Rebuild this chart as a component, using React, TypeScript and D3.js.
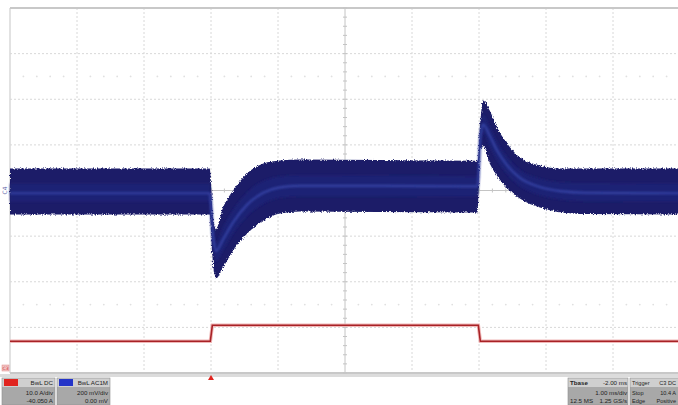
import React, { useRef, useEffect } from 'react';
import * as d3 from 'd3';

const WIDTH = 678;
const HEIGHT = 405;

// time in ms from the trigger, C4 voltage in mV, C3 current in A
const bandTime = [-3, -0.02, 0.03, 0.075, 0.18, 0.33, 0.54, 0.78, 1.03, 1.33, 2.5, 3.98, 4.02, 4.06, 4.16, 4.27, 4.42, 4.61, 4.91, 5.21, 5.6, 7];
const upperMv = [96, 96, -120, -170, -75, 0, 75, 118, 132, 136, 134, 130, 300, 395, 351, 276, 206, 145, 110, 96, 96, 96];
const lowerMv = [-105, -105, -320, -386, -338, -263, -189, -132, -101, -92, -94, -96, 185, 195, 118, 65, 10, -35, -75, -95, -103, -105];
const centerMv = [-12, -12, -200, -265, -215, -140, -62, -10, 14, 20, 20, 18, 230, 290, 240, 175, 110, 55, 15, -3, -10, -12];

const currentTime = [-3, -0.01, 0.02, 3.99, 4.02, 7];
const currentAmps = [7.0, 7.0, 10.5, 10.5, 7.0, 7.0];

const channelBoxes = [
  { tab: '#e0241f', head: 'BwL DC', l1: '10.0 A/div', l2: '-40.050 A' },
  { tab: '#2434c8', head: 'BwL AC1M', l1: '200 mV/div', l2: '0.00 mV' },
];
const timeBox = { head: 'Tbase', headR: '-2.00 ms', l1: '1.00 ms/div', l2L: '12.5 MS', l2R: '1.25 GS/s' };
const trigBox = { head: 'Trigger', headR: 'C3 DC', l1L: 'Stop', l1R: '10.4 A', l2L: 'Edge', l2R: 'Positive' };

const App = () => {
  const svgRef = useRef<SVGSVGElement>(null);

  useEffect(() => {
    document.body.style.margin = '0';
    const svg = d3.select(svgRef.current);
    svg.selectAll('*').remove();
    svg.attr('width', WIDTH).attr('height', HEIGHT).style('display', 'block');

    const left = 10, right = 680, top = 8, bottom = 373;
    const x = d3.scaleLinear().domain([-3, 7]).range([left, right]);
    const yV = d3.scaleLinear().domain([-800, 800]).range([bottom, top]);
    const yA = d3.scaleLinear().domain([0.05, 80.05]).range([bottom, top]);

    svg.append('rect').attr('width', WIDTH).attr('height', HEIGHT).attr('fill', '#ffffff');

    const defs = svg.append('defs');
    const f = defs.append('filter').attr('id', 'rough')
      .attr('x', '-2%').attr('y', '-10%').attr('width', '104%').attr('height', '120%');
    f.append('feTurbulence').attr('type', 'fractalNoise')
      .attr('baseFrequency', '0.9 0.6').attr('numOctaves', 2).attr('seed', 4).attr('result', 'n');
    f.append('feDisplacementMap').attr('in', 'SourceGraphic').attr('in2', 'n')
      .attr('scale', 4).attr('xChannelSelector', 'R').attr('yChannelSelector', 'G');
    const blur = defs.append('filter').attr('id', 'soft');
    blur.append('feGaussianBlur').attr('stdDeviation', 1);

    // grid
    const grid = svg.append('g');
    const xTicks = d3.range(-3, 8, 1);
    const yTicks = d3.range(-800, 801, 200);
    xTicks.forEach(t => {
      const solid = t === 2;
      grid.append('line')
        .attr('x1', x(t)).attr('x2', x(t)).attr('y1', top).attr('y2', bottom)
        .attr('stroke', solid ? '#c4c4c4' : '#d8d8d8')
        .attr('stroke-width', t === -3 ? 1.5 : 1)
        .attr('stroke-dasharray', solid || t === -3 ? null : '2,2');
    });
    yTicks.forEach(v => {
      const solid = v === 0;
      const edge = v === 800 || v === -800;
      grid.append('line')
        .attr('x1', left).attr('x2', WIDTH).attr('y1', yV(v)).attr('y2', yV(v))
        .attr('stroke', edge ? '#c8c8c8' : solid ? '#c4c4c4' : '#d8d8d8')
        .attr('stroke-width', edge ? 2 : 1)
        .attr('stroke-dasharray', solid || edge ? null : '2,2');
    });
    // minor ticks on centre axes
    d3.range(-800, 801, 40).forEach(v => {
      grid.append('line').attr('x1', x(2) - 2).attr('x2', x(2) + 2)
        .attr('y1', yV(v)).attr('y2', yV(v)).attr('stroke', '#c4c4c4');
    });
    d3.range(-3, 7.01, 0.2).forEach(t => {
      grid.append('line').attr('x1', x(t)).attr('x2', x(t))
        .attr('y1', yV(0) - 2).attr('y2', yV(0) + 2).attr('stroke', '#c4c4c4');
    });
    // faint sub-division marks
    [500, -500].forEach(v => {
      d3.range(-3, 7.01, 0.2).forEach(t => {
        if (Math.abs(t - Math.round(t)) < 0.01) return;
        grid.append('circle').attr('cx', x(t)).attr('cy', yV(v)).attr('r', 0.9).attr('fill', '#e0e0e0');
      });
    });

    // C4 voltage band
    const idx = d3.range(bandTime.length);
    const band = d3.area<number>()
      .x(i => x(bandTime[i]))
      .y0(i => yV(lowerMv[i]))
      .y1(i => yV(upperMv[i]))
      .curve(d3.curveMonotoneX);
    svg.append('path').attr('d', band(idx)).attr('fill', '#1b1d68').attr('filter', 'url(#rough)');

    const inner = d3.area<number>()
      .x(i => x(bandTime[i]))
      .y0(i => yV(centerMv[i] - (centerMv[i] - lowerMv[i]) * 0.4))
      .y1(i => yV(centerMv[i] + (upperMv[i] - centerMv[i]) * 0.4))
      .curve(d3.curveMonotoneX);
    svg.append('path').attr('d', inner(idx)).attr('fill', '#1f2274').attr('filter', 'url(#soft)');

    const centre = d3.line<number>()
      .x(i => x(bandTime[i]))
      .y(i => yV(centerMv[i]))
      .curve(d3.curveMonotoneX);
    svg.append('path').attr('d', centre(idx)).attr('fill', 'none')
      .attr('stroke', '#3442a4').attr('stroke-width', 2.2).attr('filter', 'url(#soft)');

    // C3 current
    const cur = d3.line<number>()
      .x(i => x(currentTime[i]))
      .y(i => yA(currentAmps[i]));
    const cIdx = d3.range(currentTime.length);
    svg.append('path').attr('d', cur(cIdx)).attr('fill', 'none')
      .attr('stroke', '#f0b8b8').attr('stroke-width', 3.5);
    svg.append('path').attr('d', cur(cIdx)).attr('fill', 'none')
      .attr('stroke', '#a82226').attr('stroke-width', 1.6);

    // channel markers at left
    svg.append('text').attr('transform', `translate(7, ${yV(0)}) rotate(-90)`)
      .attr('text-anchor', 'middle').attr('font-family', 'DejaVu Sans').attr('font-size', 6)
      .attr('fill', '#5a64a8').text('C4');
    svg.append('rect').attr('x', 2).attr('y', 365).attr('width', 7).attr('height', 6)
      .attr('fill', '#f2c4c4').attr('stroke', '#d88').attr('stroke-width', 0.5);
    svg.append('text').attr('x', 5.5).attr('y', 370).attr('text-anchor', 'middle')
      .attr('font-family', 'DejaVu Sans').attr('font-size', 4.5).attr('fill', '#c33').text('C3');

    // status bar
    svg.append('rect').attr('x', 0).attr('y', 374).attr('width', WIDTH).attr('height', 3).attr('fill', '#dcdcdc');
    svg.append('path').attr('d', `M${x(0) - 3},380 L${x(0) + 3},380 L${x(0)},375 Z`).attr('fill', '#e0241f');

    const font = 'Liberation Sans, Arial, sans-serif';
    const drawBox = (bx: number, bw: number) => {
      const g = svg.append('g');
      g.append('rect').attr('x', bx).attr('y', 378).attr('width', bw).attr('height', 27).attr('fill', '#a8a8a8');
      g.append('rect').attr('x', bx).attr('y', 378).attr('width', bw).attr('height', 9).attr('fill', '#cfcfcf');
      g.append('rect').attr('x', bx).attr('y', 378).attr('width', bw).attr('height', 27)
        .attr('fill', 'none').attr('stroke', '#8c8c8c').attr('stroke-width', 0.6);
      return g;
    };
    const txt = (g: any, tx: number, ty: number, s: string, anchor = 'end', size = 6.2) =>
      g.append('text').attr('x', tx).attr('y', ty).attr('text-anchor', anchor)
        .attr('font-family', font).attr('font-size', size).attr('fill', '#222').text(s);

    channelBoxes.forEach((b, i) => {
      const bx = 2 + i * 55;
      const g = drawBox(bx, 53);
      g.append('rect').attr('x', bx + 2).attr('y', 379).attr('width', 14).attr('height', 7).attr('fill', b.tab);
      txt(g, bx + 51, 385, b.head);
      txt(g, bx + 51, 394.5, b.l1);
      txt(g, bx + 51, 403, b.l2);
    });

    const tg = drawBox(568, 60);
    txt(tg, 570, 385, timeBox.head, 'start').attr('font-weight', 'bold');
    txt(tg, 627, 385, timeBox.headR);
    txt(tg, 627, 394.5, timeBox.l1);
    txt(tg, 570, 403, timeBox.l2L, 'start');
    txt(tg, 627, 403, timeBox.l2R);

    const gg = drawBox(630, 50);
    txt(gg, 632, 385, trigBox.head, 'start', 5.6);
    txt(gg, 676, 385, trigBox.headR, 'end', 5.6);
    txt(gg, 632, 394.5, trigBox.l1L, 'start', 5.6);
    txt(gg, 676, 394.5, trigBox.l1R, 'end', 5.6);
    txt(gg, 632, 403, trigBox.l2L, 'start', 5.6);
    txt(gg, 676, 403, trigBox.l2R, 'end', 5.6);
  }, []);

  return <svg ref={svgRef}></svg>;
};

export default App;
